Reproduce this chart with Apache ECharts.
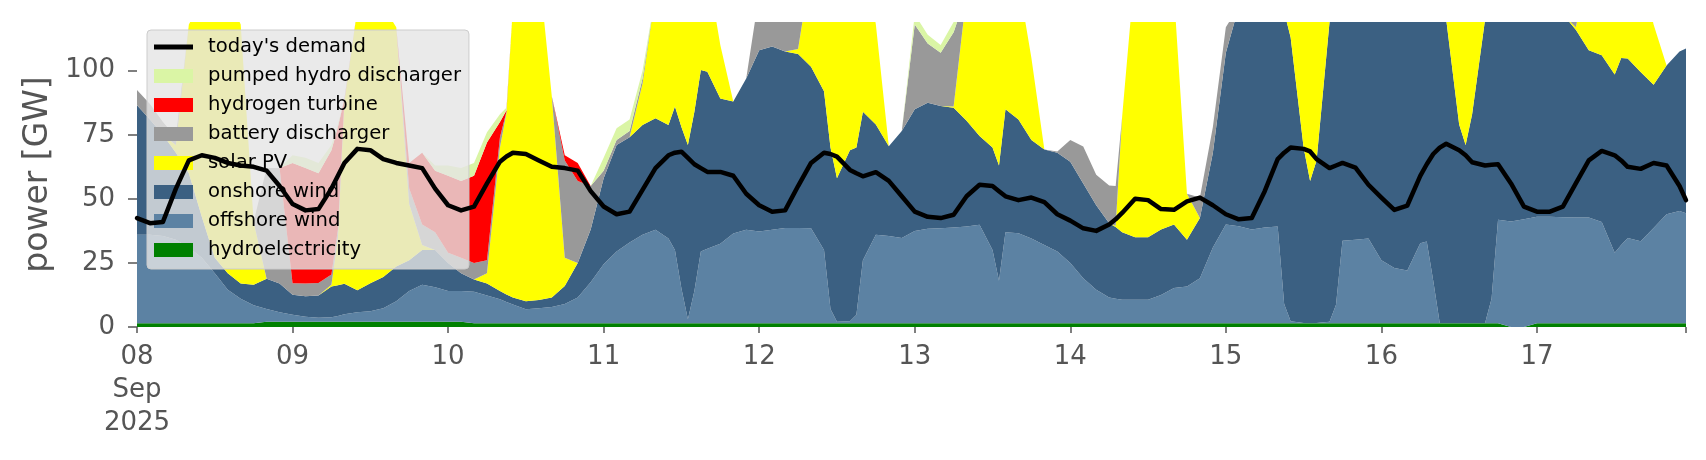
<!DOCTYPE html>
<html><head><meta charset="utf-8">
<script src="https://cdn.jsdelivr.net/npm/echarts@6/dist/echarts.min.js"></script>
<style>html,body{margin:0;padding:0;background:#fff}#c{width:1706px;height:460px}</style>
</head><body><div id="c"></div>
<script>
// hours since 2025-09-08 00:00
const hours = [
 0,2,4,6,8,10,12,14,16,18,20,22,
 24,26,28,30,31,32,34,36,38,40,42,44,46,
 48,50,52,54,56,57,58,60,62,64,66,68,70,
 72,74,76,78,80,82,83,84,85,86,87,88,90,92,94,
 96,98,100,102,104,106,107,108,110,111,112,114,116,118,
 120,122,124,126,128,130,132,133,134,136,138,140,142,
 144,146,148,150,151,152,154,156,158,160,162,164,166,
 168,170,172,174,176,177,178,180,181,182,184,185,186,188,190,
 192,194,196,198,199,200,201,202,204,205,206,208,209,210,212,214,
 216,218,220,222,224,226,228,229,230,232,234,236,238,239];

const dayLabels = ['08\nSep\n2025','09','10','11','12','13','14','15','16','17'];
const yTicks = [0,25,50,75,100];

const hydro = [
 1.5,1.5,1.5,1.5,1.5,1.5,1.5,1.5,1.5,1.5,2,2,
 2,2,2,2,2,2,2,2,2,2,2,2,2,
 2,2,1.5,1.5,1.5,1.5,1.5,1.5,1.5,1.5,1.5,1.5,1.5,
 1.5,1.5,1.5,1.5,1.5,1.5,1.5,1.5,1.5,1.5,1.5,1.5,1.5,1.5,1.5,
 1.5,1.5,1.5,1.5,1.5,1.5,1.5,1.5,1.5,1.5,1.5,1.5,1.5,1.5,
 1.5,1.5,1.5,1.5,1.5,1.5,1.5,1.5,1.5,1.5,1.5,1.5,1.5,
 1.5,1.5,1.5,1.5,1.5,1.5,1.5,1.5,1.5,1.5,1.5,1.5,1.5,
 1.5,1.5,1.5,1.5,1.5,1.5,1.5,1.5,1.5,1.5,1.5,1.5,1.5,1.5,1.5,
 1.5,1.5,1.5,1.5,1.5,1.5,1.5,1.5,1.5,1.5,1.5,1.5,1.5,1.5,0,0,
 1.5,1.5,1.5,1.5,1.5,1.5,1.5,1.5,1.5,1.5,1.5,1.5,1.5,1.5];

const offshore = [
 34.5,34.5,34,32.5,29.5,25.5,19.5,13,9.5,7,5,3.8,
 2.8,2,1.6,1.8,2.3,3,3.8,4.1,5.3,8,12,14.5,13.5,
 12,12,12.3,10.8,9.3,8.3,7.3,5.4,5.8,6.3,7.5,10,16,
 23,28,31.5,34.5,36.4,33,28.5,13.5,1.5,12.5,28,29,31,35,36.4,
 35.8,36.4,37.1,37.1,37,28.5,5.5,0.5,0.7,3.3,24.5,34.5,34,33.2,
 36,36.8,37,37.3,37.7,38.4,28.5,16.5,35.5,35.1,33,30.5,28,
 23.5,17.5,13,10,9.5,9.1,9.1,9.1,11,13.7,14.3,17.5,29.5,
 38.5,37.8,36.5,37.3,37.7,7.5,0.7,0.1,0.1,0.1,0.5,7.2,32.2,32.5,33,
 24.5,21.5,20.5,31.2,31.9,16.5,0.1,0.1,0.1,0.1,0.1,0.1,9.5,40.3,41.2,42,
 41.5,41.5,41.3,41.2,41.2,39.5,27.5,30.5,33.2,32,37.1,42.5,43.8,42.9];

const onshore = [
 50.5,45,39.5,34,29,16,6,6.5,6,8,11.8,11.2,
 7.8,8,8.7,12,12,11.9,8.5,11,12.2,13.6,12,13.5,14.5,
 11,7,4.7,4.7,3.2,2.9,2.7,3.1,3.2,3.7,7,13.5,20.5,
 33.5,41.5,41,42.8,43.5,44.3,56,63,68,70,70.8,69.1,56.7,51.5,59.1,
 70.7,71.5,68.9,67.9,63,62,63,56,66.8,65.2,58,43,35,41.8,
 47.5,49.2,47.7,46.7,41.3,34.6,40,45,48,44.4,38.5,37.3,38.5,
 39.5,37,33,29,28,26.4,24.4,24.4,25.5,24.8,18.2,23.5,37,
 67,85.7,92,91.2,88.8,114,110.8,68.4,55.4,63.4,117,116.3,96.3,96,95.5,
 104,107,108,97.3,96.6,112,126.4,118.4,77.4,69.4,81.4,118.4,114,88.2,88.8,88,
 87,87,79.2,73.3,65.3,65,69.5,73,70.1,66,55.9,58,62.2,64.3];

const solar = [
 0,0,0,3,58,85,108,109,101,24.5,0,0,
 0,0,0,0.7,18.7,71.1,109.7,117.9,105.5,93.4,22,2,0,
 0,0,0,4,56,70.8,113.5,130,129.5,78.5,11,0,0,
 0,0,0,16.2,48.6,61.2,59,67,74,56,39.7,40.4,20.8,0,0,
 0,0,0,2,38.5,58,80,87,81,80,66,39,0,0,
 0,0,0,0.5,49.5,70.5,70,77,55,54,32,0,0,
 0,0,0,0,0.5,45,105,110,102,90,18,0,0,
 0,0,0,3,32,42,52,80,88,75,31,20,10,0,0,
 0,0,0,5,15,30,37,45,81,84,67,25,15,5,0,0,
 0,0,0,1,32,44,51.5,45,45.2,40.5,23.5,0,0,0];

const battery = [
 6,6,5,3,0,0,0,0,0,0,43.2,45,
 4.5,5,4.9,4,3,0.5,0,0,0,0,6,8,7,
 4,6,6.5,5,4,0.5,0,0,0,0,38,32,17,
 3,2,2.5,2,0,0,0,0,0,0,0,0,0,0,0,
 22,18.6,17.5,20,0,0,0,0,0,0,0,0,0,0,
 33,23.1,20.8,29,0,0,0,0,0,0,0,0,0.5,
 8.5,14.4,11.9,14.7,15.5,0,0,0,0,0,0,8,10,
 10,0,0,0,0,0,0,0,0,0,0,0,0,0,0,
 0,0,0,0,0,0,0,0,0,0,0,0,0,0,0,0,
 0,0,0,4,0,0,0,0,0,0,0,0,0,0];

const hydrogen = [
 0,0,0,0,0,0,0,0,0,0,0,0,
 46.9,45,42.8,48.5,40,0.5,0,0,0,0,10,28,24,
 30,30,34,46,6,0.5,0,0,0,0,2,7,0,
 0,0,0,0,0,0,0,0,0,0,0,0,0,0,0,
 0,0,0,0,0,0,0,0,0,0,0,0,0,0,
 0,0,0,0,0,0,0,0,0,0,0,0,0,
 0,0,0,0,0,0,0,0,0,0,0,0,0,
 0,0,0,0,0,0,0,0,0,0,0,0,0,0,0,
 0,0,0,0,0,0,0,0,0,0,0,0,0,0,0,0,
 0,0,0,0,0,0,0,0,0,0,0,0,0,0];

const pumped = [
 0,0,0,0,0,0,0,0,0,0,0,0,
 3,4,4,2,1,0,0,0,0,0,0,0,2,
 4,5,5,4,3,1,0,0,0,0,0,0,0,
 5,4.5,4.5,3,0,0,0,0,0,0,0,0,0,0,0,
 0,0,0,0,0,0,0,0,0,0,0,0,0,0,
 4,3.4,3,4,0,0,0,0,0,0,0,0,0,
 0,0,0,0,0,0,0,0,0,0,0,0,0,
 0,0,0,0,0,0,0,0,0,0,0,0,0,0,0,
 0,0,0,0,0,0,0,0,0,0,0,0,0,0,0,0,
 0,0,0,0,0,0,0,0,0,0,0,0,0,0];

const demand = [
 42.5,40.5,41,54,65,67,66,64,63,62.5,61,55,
 48,45.5,46,54,59,64,69.5,69,65.5,64,63,62,54,
 47.5,45.5,47,56,64.5,66.5,68,67.5,65,62.5,62,61,53,
 47,44,45,53.5,62,67,68,68.4,66,63.5,62,60.5,60.5,59,52,
 47.5,45,45.5,55,64,68,67.5,66.5,61.3,60,58.8,60.4,57,51,
 45,43,42.5,43.8,51,55.5,55,53,51,49.5,50.5,48.7,44,
 41.5,38.5,37.5,40,42,44.5,50,49.5,46,45.7,49,50.5,47.5,
 44,42,42.5,53,65.5,68,70,69.5,68.5,65.5,62,63,64,62.2,55.5,
 50.5,45.7,47.4,59,63.5,67.5,70,71.5,69,67,64.3,63,63.3,63.5,56,47,
 45,45,47,56,65,68.7,67,65,62.5,61.7,64,63,55,49.5];

const checks = {hydro, offshore, onshore, solar, battery, hydrogen, pumped, demand};
for (const [k, a] of Object.entries(checks)) {
  if (a.length !== hours.length) throw new Error(k + ' has ' + a.length + ' values, hours has ' + hours.length);
}

// value first, hour second, so the stacked dimension is the value (y)
const pairs = arr => hours.map((h, i) => [arr[i], h]);
const FONT = 'DejaVu Sans';

const areaDefs = [
  ['hydroelectricity', hydro, '#008000'],
  ['offshore wind', offshore, '#5c82a3'],
  ['onshore wind', onshore, '#3b6082'],
  ['solar PV', solar, '#ffff00'],
  ['battery discharger', battery, '#999999'],
  ['hydrogen turbine', hydrogen, '#ff0000'],
  ['pumped hydro discharger', pumped, '#daf5a5']
];

const series = areaDefs.map(([name, arr, col]) => ({
  name, type: 'line', stack: 'gen', data: pairs(arr),
  encode: {x: 1, y: 0},
  symbol: 'none', showSymbol: false, smooth: false,
  color: col, itemStyle: {color: col},
  lineStyle: {width: 0, color: col},
  areaStyle: {color: col, opacity: 1},
  z: 2
}));
series.push({
  name: "today's demand", type: 'line', data: pairs(demand),
  encode: {x: 1, y: 0},
  symbol: 'none', showSymbol: false, color: '#000', itemStyle: {color: '#000'},
  lineStyle: {width: 4.5, color: '#000', join: 'round', cap: 'round'}, z: 5
});

const xTickVals = dayLabels.map((_, i) => i * 24).concat([239]);
const xLabelVals = dayLabels.map((_, i) => i * 24);

const chart = echarts.init(document.getElementById('c'), null, {renderer: 'canvas'});
chart.setOption({
  animation: false,
  backgroundColor: '#ffffff',
  grid: {left: 137, right: 20, top: 22, bottom: 133, containLabel: false, outerBoundsMode: 'none'},
  xAxis: {
    type: 'value', min: 0, max: 239,
    axisLine: {show: false},
    splitLine: {show: false},
    axisTick: {show: true, length: 6, customValues: xTickVals, lineStyle: {color: '#555555', width: 1.5}},
    axisLabel: {
      customValues: xLabelVals, showMinLabel: true, showMaxLabel: true,
      formatter: v => dayLabels[Math.round(v / 24)] || '',
      fontFamily: FONT, fontSize: 26, color: '#555555', lineHeight: 33, margin: 14
    }
  },
  yAxis: {
    type: 'value', min: 0, max: 119,
    name: 'power [GW]', nameLocation: 'middle', nameRotate: 90, nameGap: 74,
    nameTextStyle: {fontFamily: FONT, fontSize: 33, color: '#555555'},
    axisLine: {show: false},
    splitLine: {show: false},
    axisTick: {show: true, length: 9, customValues: yTicks, lineStyle: {color: '#555555', width: 1.5}},
    axisLabel: {customValues: yTicks, fontFamily: FONT, fontSize: 26, color: '#555555', margin: 22, padding: [6, 0, 0, 0]}
  },
  legend: {
    orient: 'vertical', left: 147, top: 30,
    backgroundColor: 'rgba(229,229,229,0.8)', borderColor: '#cccccc', borderWidth: 1, borderRadius: 4,
    padding: [7, 8, 9, 7],
    itemWidth: 39, itemHeight: 14, itemGap: 9,
    selectedMode: false,
    textStyle: {fontFamily: FONT, fontSize: 19.6, color: '#000000', padding: [0, 0, 0, 10]},
    data: [
      {name: "today's demand", icon: 'path://M0,0H40V5H0Z'},
      {name: 'pumped hydro discharger', icon: 'rect'},
      {name: 'hydrogen turbine', icon: 'rect'},
      {name: 'battery discharger', icon: 'rect'},
      {name: 'solar PV', icon: 'rect'},
      {name: 'onshore wind', icon: 'rect'},
      {name: 'offshore wind', icon: 'rect'},
      {name: 'hydroelectricity', icon: 'rect'}
    ]
  },
  series
});
</script>
</body></html>
